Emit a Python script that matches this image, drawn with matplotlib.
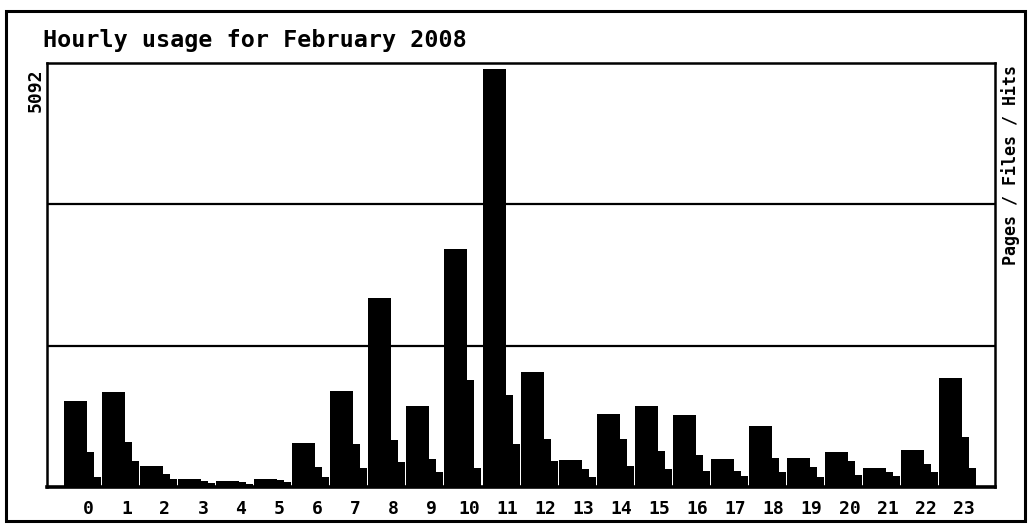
import matplotlib.pyplot as plt
import numpy as np
from matplotlib.patches import Rectangle

# webalizer style hourly chart
hours = list(range(24))
hits = [1053, 1162, 254, 97, 73, 97, 532, 1174, 2300, 992, 2904, 5092,
        1404, 327, 895, 992, 871, 339, 738, 351, 424, 230, 448, 1331]
files = [424, 545, 157, 73, 60, 85, 242, 520, 569, 339, 1307, 1125,
         581, 218, 581, 436, 387, 194, 351, 242, 315, 182, 278, 605]
pages = [121, 315, 97, 48, 36, 60, 121, 230, 303, 180, 230, 520,
         315, 121, 254, 218, 194, 133, 182, 121, 145, 133, 182, 230]
max_label = "5092"
title = "Hourly usage for February 2008"
side_label = "Pages / Files / Hits"

W, H = 1028, 527
fig = plt.figure(figsize=(W / 100, H / 100), dpi=100)
fig.patch.set_facecolor("white")

def fx(px):
    return px / W

def fy(py):
    return 1 - py / H

# outer frame
fig.patches.append(Rectangle((fx(6), fy(521)), fx(1025) - fx(6), fy(11) - fy(521),
                             transform=fig.transFigure, fill=False,
                             edgecolor="black", lw=2.2))

left, top, right, bottom = 47, 63, 995, 487
ax = fig.add_axes([fx(left), fy(bottom), fx(right) - fx(left), fy(top) - fy(bottom)])

ymax = 5165
x = np.array(hours, dtype=float)
w = 0.605
d = 0.184
ax.bar(x, hits, width=w, align="edge", color="black", zorder=3)
ax.bar(x + d, files, width=w, align="edge", color="black", zorder=4)
ax.bar(x + 2 * d, pages, width=w, align="edge", color="black", zorder=5)

ax.axhline(ymax / 3, color="black", lw=1.6, zorder=1)
ax.axhline(2 * ymax / 3, color="black", lw=1.6, zorder=1)

ax.set_xlim(-0.447, 24.47)
ax.set_ylim(0, ymax)
ax.set_yticks([])
ax.set_xticks(x + 0.65)
ax.set_xticklabels([str(h) for h in hours], family="DejaVu Sans Mono",
                   fontweight="bold", fontsize=13)
ax.tick_params(axis="x", length=0, pad=9)
for side in ["left", "top", "right"]:
    ax.spines[side].set_linewidth(1.8)
ax.spines["bottom"].set_linewidth(2.6)

fig.text(fx(43), fy(40), title, family="DejaVu Sans Mono", fontweight="bold",
         fontsize=16.8, ha="left", va="center")
fig.text(fx(36), fy(90), max_label, family="DejaVu Sans Mono", fontweight="bold",
         fontsize=13, rotation=90, ha="center", va="center")
fig.text(fx(1011), fy(165), side_label, family="DejaVu Sans Mono", fontweight="bold",
         fontsize=12, rotation=90, ha="center", va="center")

fig.savefig("out.png", dpi=100)
